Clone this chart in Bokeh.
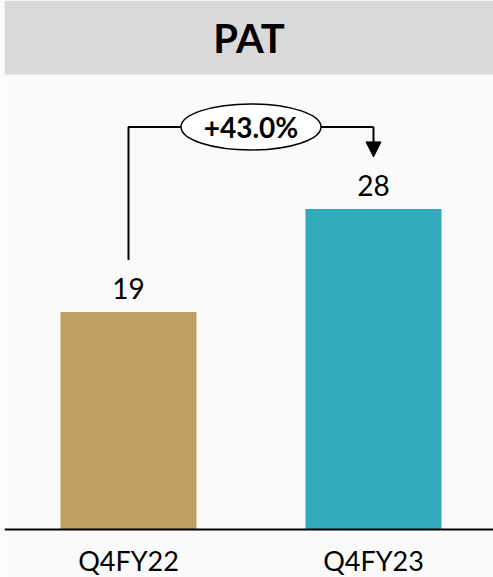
from bokeh.plotting import figure
from bokeh.models import Range1d, BoxAnnotation, Label, Arrow, NormalHead, Span
from bokeh.core.properties import value
from bokeh.embed import file_html
from bokeh.resources import INLINE

# --- data ---
categories = ["Q4FY22", "Q4FY23"]
pat_values = [19, 28]
bar_colors = ["#BFA062", "#33AABB"]
growth_label = "+43.0%"
chart_title = "PAT"

FONT = "Lato"
W, H = 493, 577
BASELINE_PX = 529      # distance of the zero line from the top of the chart
PX_PER_UNIT = 11.45    # vertical scale (pixels per value unit)
PX_PER_CAT = 245       # horizontal spacing between category centres
FIRST_CAT_PX = 124     # first category centre, from the frame's left edge
LEFT_PAD = 4
FRAME_W = W - LEFT_PAD

xs = list(range(len(categories)))
x_start = -FIRST_CAT_PX / PX_PER_CAT
x_end = x_start + FRAME_W / PX_PER_CAT
y_end = BASELINE_PX / PX_PER_UNIT
y_start = -(H - BASELINE_PX) / PX_PER_UNIT

p = figure(
    width=W, height=H,
    x_range=Range1d(x_start, x_end), y_range=Range1d(y_start, y_end),
    output_backend="svg", toolbar_location=None,
    x_axis_location=None, y_axis_location=None,
    min_border_left=LEFT_PAD, min_border_right=0, min_border_top=0, min_border_bottom=0,
    background_fill_color="#FAFAFA", border_fill_color="#FAFAFA",
    outline_line_color=None,
)
p.grid.visible = False

# title band
band_h = 74 / PX_PER_UNIT
p.add_layout(BoxAnnotation(bottom=y_end - band_h, fill_color="#D9D9D9",
                           fill_alpha=1.0, line_color=None, level="underlay"))
p.add_layout(Label(x=(x_start + x_end) / 2, y=y_end - band_h / 2, text=chart_title,
                   text_font=FONT, text_font_style="bold",
                   text_font_size="40px", text_color="black",
                   text_align="center", text_baseline="middle", level="overlay"))

# bars
bar_w = 136 / PX_PER_CAT
p.vbar(x=xs, top=pat_values, width=bar_w, bottom=0, color=bar_colors, line_color=None)

# zero line
p.add_layout(Span(location=0, dimension="width", line_color="black", line_width=2))

# category labels under the zero line
p.text(x=xs, y=[-31 / PX_PER_UNIT] * len(xs), text=categories,
       text_font=value(FONT), text_font_size="27px", text_color="black",
       text_align="center", text_baseline="middle")

# value labels, a little above each bar
p.text(x=xs, y=[v + 13 / PX_PER_UNIT for v in pat_values], text=[str(v) for v in pat_values],
       text_font=value(FONT), text_font_size="28px", text_color="black",
       text_align="center", text_baseline="bottom")

# growth connector: up from the first bar, across, down onto the second bar
lead = 52 / PX_PER_UNIT
level_y = max(pat_values) + 82 / PX_PER_UNIT
p.line(x=[xs[0], xs[0], xs[1]], y=[pat_values[0] + lead, level_y, level_y],
       line_color="black", line_width=2)
p.add_layout(Arrow(x_start=xs[1], y_start=level_y, x_end=xs[1], y_end=pat_values[1] + lead,
                   line_color="black", line_width=2,
                   end=NormalHead(size=15, fill_color="black", line_color="black")))

mid_x = (xs[0] + xs[1]) / 2
p.ellipse(x=[mid_x], y=[level_y], width=140, height=46,
          width_units="screen", height_units="screen",
          fill_color="white", line_color="black", line_width=1.5)
p.text(x=[mid_x], y=[level_y], text=[growth_label],
       text_font=value(FONT), text_font_style="bold", text_font_size="28px",
       text_color="black", text_align="center", text_baseline="middle")

open("out.html", "w").write(file_html(p, INLINE))
